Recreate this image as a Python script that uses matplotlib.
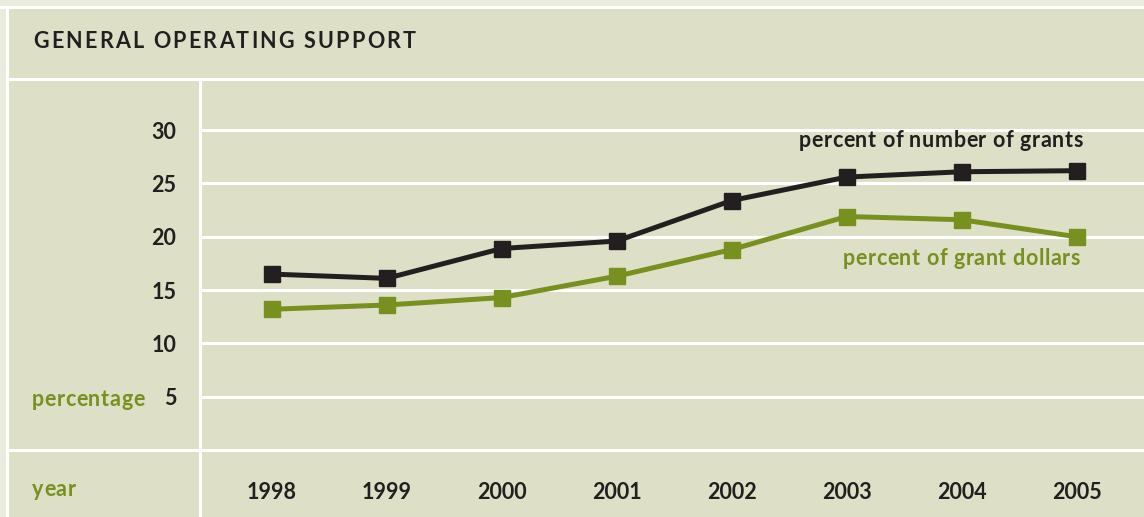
import matplotlib
matplotlib.use("Agg")
import matplotlib.pyplot as plt
from matplotlib.lines import Line2D
from matplotlib.patches import Rectangle

years = [1998, 1999, 2000, 2001, 2002, 2003, 2004, 2005]
pct_grants = [16.5, 16.1, 18.9, 19.6, 23.4, 25.6, 26.1, 26.2]
pct_dollars = [13.2, 13.6, 14.3, 16.3, 18.8, 21.9, 21.6, 20.0]
y_ticks = [5, 10, 15, 20, 25, 30]

title = "GENERAL OPERATING SUPPORT"
label_grants = "percent of number of grants"
label_dollars = "percent of grant dollars"

W, H = 1144, 517
OUTER = "#e8ebdd"
PANEL = "#dde0c6"
DARK = "#231f20"
GREEN = "#77901f"
FS = 15.5

plt.rcParams["font.family"] = ["Lato", "DejaVu Sans"]
plt.rcParams["font.weight"] = "bold"


def fx(x):
    return x / W


def fy(y):
    return 1 - y / H


fig = plt.figure(figsize=(W / 100, H / 100), dpi=100, facecolor=OUTER)
renderer = fig.canvas.get_renderer()


def advance(ch):
    probe = fig.text(0, 0, "H" + ch + "H", fontsize=FS)
    ref = fig.text(0, 0, "HH", fontsize=FS)
    w = probe.get_window_extent(renderer).width - ref.get_window_extent(renderer).width
    probe.remove()
    ref.remove()
    return w


def tracked(x, y, s, color, track, ha="left"):
    # draw text with extra letter spacing, x/y in pixels from top-left
    advs = [advance(ch) for ch in s]
    if ha == "right":
        x -= sum(advs) + track * (len(s) - 1)
    for ch, a in zip(s, advs):
        if ch != " ":
            fig.text(fx(x), fy(y), ch, ha="left", va="center", fontsize=FS, color=color)
        x += a + track


# panel background and white frame
fig.add_artist(Rectangle((fx(7), 0), 1, fy(7), transform=fig.transFigure,
                         facecolor=PANEL, edgecolor="none", zorder=0))
lw = 2.2
for (x0, y0, x1, y1) in [(0, 6.5, W, 6.5), (6.5, 6.5, 6.5, H),
                         (6.5, 79, W, 79), (6.5, 450, W, 450),
                         (199.5, 79, 199.5, H)]:
    fig.add_artist(Line2D([fx(x0), fx(x1)], [fy(y0), fy(y1)],
                          transform=fig.transFigure, color="white", lw=lw, zorder=5))

# plot area
ax = fig.add_axes([fx(200), fy(450), fx(W) - fx(200), fy(79) - fy(450)])
ax.set_facecolor("none")
ax.set_xlim(1997.377, 2005.585)
ax.set_ylim(0, 34.8)
for v in y_ticks:
    ax.axhline(v, color="white", lw=lw, zorder=1)

ax.plot(years, pct_grants, color=DARK, lw=3.6, marker="s", ms=11, zorder=3)
ax.plot(years, pct_dollars, color=GREEN, lw=3.6, marker="s", ms=11, zorder=3)

ax.set_yticks(y_ticks)
ax.set_yticklabels([str(v) for v in y_ticks])
ax.set_xticks(years)
ax.set_xticklabels([str(y) for y in years])
ax.tick_params(axis="y", length=0, pad=17, labelsize=FS, labelcolor=DARK)
ax.tick_params(axis="x", length=0, pad=23, labelsize=FS, labelcolor=DARK)
for s in ax.spines.values():
    s.set_visible(False)

# series labels, anchored in data coordinates
for (xv, yv, text, col) in [(2005.05, 29.0, label_grants, DARK),
                            (2005.03, 18.0, label_dollars, GREEN)]:
    px, py = ax.transData.transform((xv, yv))
    tracked(px, H - py, text, col, 0.6, ha="right")

# left column labels
tracked(32, 399, "percentage", GREEN, 0.6)
tracked(32, 489, "year", GREEN, 0.6)

# title with letter spacing
tracked(33, 42, title, DARK, 2.2)

fig.savefig("out.png", dpi=100, facecolor=OUTER)
